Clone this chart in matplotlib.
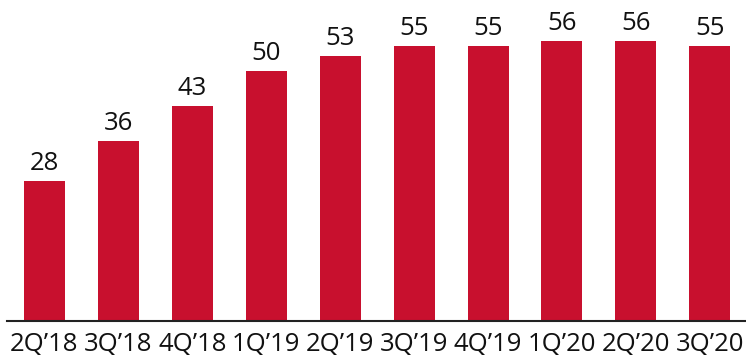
import matplotlib.pyplot as plt

quarters = ["2Q’18", "3Q’18", "4Q’18", "1Q’19", "2Q’19", "3Q’19", "4Q’19", "1Q’20", "2Q’20", "3Q’20"]
values = [28, 36, 43, 50, 53, 55, 55, 56, 56, 55]

plt.rcParams['font.family'] = ['Open Sans', 'DejaVu Sans']

fig = plt.figure(figsize=(7.46, 3.61), dpi=100)
ax = fig.add_axes([0.0094, 40 / 361, 0.9906, 1 - 40 / 361])

x = range(len(values))
bars = ax.bar(x, values, width=0.555, color="#C8102E")
for b, v in zip(bars, values):
    ax.text(b.get_x() + b.get_width() / 2, v + 1.0, str(v),
            ha="center", va="bottom", fontsize=18.5, color="#111111")

ax.set_xlim(-0.507, 9.49)
ax.set_ylim(0, 64.2)
ax.set_xticks(list(x))
ax.set_xticklabels(quarters, fontsize=18.5, color="#111111")
ax.tick_params(axis="x", length=0, pad=8)
ax.set_yticks([])
for s in ["top", "right", "left"]:
    ax.spines[s].set_visible(False)
ax.spines["bottom"].set_linewidth(1.5)
ax.spines["bottom"].set_color("#222222")

fig.savefig("out.png", dpi=100)
